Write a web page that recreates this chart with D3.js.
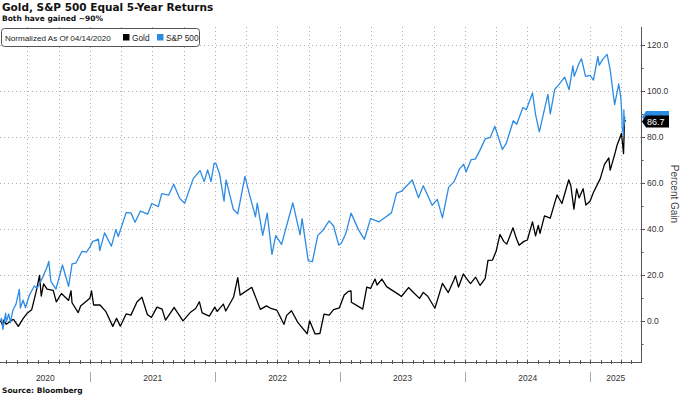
<!DOCTYPE html>
<html>
<head>
<meta charset="utf-8">
<script src="https://cdn.jsdelivr.net/npm/d3@7"></script>
<style>
  body { margin: 0; background: #fff; }
  svg { display: block; font-family: "Liberation Sans", Arial, sans-serif; }
  .grid line { stroke: #b0b0b0; stroke-dasharray: 1, 3; }
</style>
</head>
<body>
<div id="chart"></div>
<script>
// values are % gain, normalized to 04/14/2020
const goldSeries = [
  ["2020-04-14", 0], ["2020-04-21", -2.3], ["2020-04-23", 0.2], ["2020-05-01", -1.6],
  ["2020-05-18", 0.3], ["2020-05-22", 0.5], ["2020-06-05", -2.5], ["2020-06-19", 0.9],
  ["2020-06-30", 3.1], ["2020-07-14", 4.7], ["2020-07-27", 12.5], ["2020-08-06", 19.7],
  ["2020-08-11", 10.7], ["2020-08-18", 16], ["2020-08-28", 13.7], ["2020-09-15", 13.2],
  ["2020-09-24", 8.2], ["2020-10-09", 11.8], ["2020-10-30", 8.8], ["2020-11-06", 13],
  ["2020-11-09", 7.8], ["2020-11-27", 3.5], ["2020-12-04", 6.4], ["2020-12-31", 9.7],
  ["2021-01-05", 12.9], ["2021-01-11", 6.8], ["2021-01-29", 6.9], ["2021-02-16", 3.9],
  ["2021-03-08", -2.5], ["2021-03-19", 1], ["2021-03-30", -2.4], ["2021-04-16", 2.9],
  ["2021-04-30", 2.4], ["2021-05-18", 8.2], ["2021-06-01", 10.2], ["2021-06-17", 2.7],
  ["2021-06-29", 1.4], ["2021-07-15", 5.9], ["2021-07-30", 5], ["2021-08-09", 0.2],
  ["2021-08-31", 5], ["2021-09-03", 5.8], ["2021-09-29", -0.1], ["2021-10-22", 3.8],
  ["2021-11-05", 5.3], ["2021-11-16", 8.2], ["2021-11-24", 3.4], ["2021-12-15", 2],
  ["2021-12-31", 5.9], ["2022-01-07", 4], ["2022-01-25", 7.2], ["2022-02-01", 4.2],
  ["2022-02-24", 10.3], ["2022-03-08", 18.7], ["2022-03-15", 11.1], ["2022-04-18", 14.5],
  ["2022-05-13", 4.9], ["2022-05-31", 6.4], ["2022-06-13", 5.3], ["2022-06-30", 4.6],
  ["2022-07-21", -1.6], ["2022-07-29", 2.3], ["2022-08-12", 4.3], ["2022-08-31", -0.9],
  ["2022-09-15", -3.6], ["2022-09-27", -5.7], ["2022-10-04", -0.1], ["2022-10-20", -5.8],
  ["2022-11-03", -5.6], ["2022-11-15", 2.8], ["2022-11-30", 2.4], ["2022-12-13", 4.8],
  ["2022-12-30", 5.6], ["2023-01-13", 11.2], ["2023-01-25", 12.7], ["2023-02-02", 12.9],
  ["2023-02-03", 8], ["2023-02-28", 5.8], ["2023-03-08", 5], ["2023-03-20", 14.6],
  ["2023-03-31", 14], ["2023-04-13", 18.1], ["2023-04-19", 15.5], ["2023-05-03", 18.1],
  ["2023-05-17", 14.8], ["2023-05-30", 13.5], ["2023-06-23", 11.2], ["2023-06-29", 10.5],
  ["2023-07-20", 14.4], ["2023-08-01", 12.6], ["2023-08-21", 9.7], ["2023-09-01", 12.3],
  ["2023-09-14", 10.6], ["2023-10-05", 5.4], ["2023-10-27", 16.2], ["2023-11-13", 12.2],
  ["2023-11-30", 17.9], ["2023-12-04", 19.5], ["2023-12-13", 14.6], ["2023-12-27", 20.3],
  ["2024-01-05", 18.4], ["2024-01-17", 16.1], ["2024-02-01", 18.9], ["2024-02-14", 15.3],
  ["2024-02-29", 18.4], ["2024-03-08", 26.2], ["2024-03-21", 26.3], ["2024-04-01", 30.3],
  ["2024-04-12", 37.5], ["2024-04-23", 34.5], ["2024-05-02", 33.3], ["2024-05-20", 40.4],
  ["2024-05-30", 35.7], ["2024-06-07", 32.8], ["2024-06-21", 34.5], ["2024-07-01", 35.1],
  ["2024-07-16", 43], ["2024-07-25", 36.9], ["2024-08-02", 41.5], ["2024-08-07", 38],
  ["2024-08-20", 45.6], ["2024-09-06", 44.6], ["2024-09-20", 51.8], ["2024-09-26", 54.7],
  ["2024-10-10", 51], ["2024-10-30", 61.3], ["2024-11-05", 58.7], ["2024-11-14", 48.5],
  ["2024-11-22", 57.3], ["2024-11-29", 53.4], ["2024-12-11", 57.4], ["2024-12-19", 50.3],
  ["2024-12-31", 52], ["2025-01-10", 55.8], ["2025-01-30", 61.8], ["2025-02-11", 67.9],
  ["2025-02-24", 70.8], ["2025-02-28", 65.5], ["2025-03-14", 72.8], ["2025-03-20", 76.3],
  ["2025-03-31", 80.7], ["2025-04-02", 81.5], ["2025-04-08", 72.7], ["2025-04-11", 87.4],
  ["2025-04-14", 86.7]
];

const spxSeries = [
  ["2020-04-14", 0], ["2020-04-17", 1], ["2020-04-21", -3.8], ["2020-04-29", 3.3],
  ["2020-05-01", -0.5], ["2020-05-08", 2.9], ["2020-05-13", -0.9], ["2020-05-20", 4.4],
  ["2020-05-29", 7], ["2020-06-08", 13.6], ["2020-06-11", 5.5], ["2020-06-19", 8.9],
  ["2020-06-26", 5.7], ["2020-07-08", 11.4], ["2020-07-22", 15.1], ["2020-07-30", 14.1],
  ["2020-08-14", 18.5], ["2020-08-28", 23.3], ["2020-09-02", 25.8], ["2020-09-08", 17.1],
  ["2020-09-23", 13.7], ["2020-10-12", 24.2], ["2020-10-30", 14.9], ["2020-11-09", 24.7],
  ["2020-11-20", 25], ["2020-12-08", 30.1], ["2020-12-21", 29.8], ["2020-12-31", 32],
  ["2021-01-08", 34.4], ["2021-01-25", 35.5], ["2021-01-29", 30.5], ["2021-02-12", 38.2],
  ["2021-03-04", 32.4], ["2021-03-17", 39.6], ["2021-03-24", 36.6], ["2021-04-16", 47],
  ["2021-04-30", 46.9], ["2021-05-12", 42.8], ["2021-05-28", 47.7], ["2021-06-18", 46.4],
  ["2021-06-30", 51], ["2021-07-19", 49.6], ["2021-07-29", 55.3], ["2021-08-18", 54.6],
  ["2021-09-02", 59.4], ["2021-09-20", 53.1], ["2021-10-04", 51.1], ["2021-10-29", 61.8],
  ["2021-11-18", 65.3], ["2021-11-30", 60.5], ["2021-12-10", 65.6], ["2021-12-20", 60.5],
  ["2021-12-29", 68.4], ["2022-01-03", 68.5], ["2022-01-14", 63.8], ["2022-01-27", 52],
  ["2022-02-02", 61.3], ["2022-02-23", 48.5], ["2022-03-08", 46.5], ["2022-03-29", 62.8],
  ["2022-04-11", 55.1], ["2022-04-29", 45.2], ["2022-05-04", 51.1], ["2022-05-20", 37.1],
  ["2022-06-02", 46.8], ["2022-06-16", 28.8], ["2022-06-27", 37], ["2022-07-14", 33.2],
  ["2022-08-16", 51.3], ["2022-09-06", 37.3], ["2022-09-12", 44.4], ["2022-09-30", 26],
  ["2022-10-12", 25.7], ["2022-10-28", 37.1], ["2022-11-10", 39], ["2022-11-30", 43.4],
  ["2022-12-13", 41.2], ["2022-12-28", 32.9], ["2023-01-05", 33.8], ["2023-01-18", 38],
  ["2023-02-02", 46.8], ["2023-02-24", 39.5], ["2023-03-13", 35.4], ["2023-03-31", 44.4],
  ["2023-04-25", 43], ["2023-05-12", 44.9], ["2023-05-31", 46.9], ["2023-06-15", 55.5],
  ["2023-06-30", 56.4], ["2023-07-31", 61.2], ["2023-08-18", 53.5], ["2023-09-01", 58.7],
  ["2023-09-27", 50.2], ["2023-10-12", 52.8], ["2023-10-27", 44.7], ["2023-11-14", 58],
  ["2023-11-30", 60.5], ["2023-12-15", 65.8], ["2023-12-28", 68.1], ["2024-01-04", 64.7],
  ["2024-01-19", 70.1], ["2024-01-31", 70.3], ["2024-02-13", 74], ["2024-02-29", 79.1],
  ["2024-03-15", 79.8], ["2024-03-28", 84.6], ["2024-04-19", 74.5], ["2024-04-30", 77],
  ["2024-05-21", 87], ["2024-05-31", 85.5], ["2024-06-18", 92.8], ["2024-06-28", 91.8],
  ["2024-07-16", 99.1], ["2024-07-25", 89.7], ["2024-08-05", 82.2], ["2024-08-30", 98.5],
  ["2024-09-06", 90], ["2024-09-19", 100.7], ["2024-09-30", 102.5], ["2024-10-18", 106],
  ["2024-10-31", 100.5], ["2024-11-11", 110.9], ["2024-11-15", 106.3], ["2024-11-29", 112],
  ["2024-12-06", 114], ["2024-12-18", 106.3], ["2024-12-31", 106.7], ["2025-01-10", 104.7],
  ["2025-01-23", 115], ["2025-01-27", 111.2], ["2025-02-06", 113.7], ["2025-02-19", 115.9],
  ["2025-02-28", 109.2], ["2025-03-10", 97.3], ["2025-03-13", 94], ["2025-03-25", 103],
  ["2025-03-31", 97.2], ["2025-04-03", 89.6], ["2025-04-04", 84], ["2025-04-08", 81],
  ["2025-04-09", 91.7], ["2025-04-10", 85.1], ["2025-04-11", 88.4], ["2025-04-14", 88.6]
];

const yTicks = [0, 20, 40, 60, 80, 100, 120];
const yMinorTicks = [-10, 10, 30, 50, 70, 90, 110];
const dateStart = "2020-04-14";
const dateEnd = "2025-05-29";
const seriesNames = ["Gold", "S&P 500"];
const seriesColors = ["#000000", "#2c8be3"];

const width = 680;
const height = 397;
const plot = { left: 0, right: 641, top: 27, bottom: 362 };

const parse = d3.utcParse("%Y-%m-%d");
const toPoints = (arr) => arr.map(([d, v]) => ({ date: parse(d), value: v }));
const gold = toPoints(goldSeries);
const spx = toPoints(spxSeries);

const x = d3.scaleUtc()
  .domain([parse(dateStart), parse(dateEnd)])
  .range([plot.left + 0.5, plot.right]);
const y = d3.scaleLinear()
  .domain([-18, 127.8])
  .range([plot.bottom, plot.top]);

const svg = d3.select("#chart")
  .append("svg")
  .attr("width", width)
  .attr("height", height);

// grid
const grid = svg.append("g").attr("class", "grid");
grid.selectAll(".hgrid")
  .data(yTicks)
  .join("line")
  .attr("x1", plot.left)
  .attr("x2", plot.right)
  .attr("y1", (d) => Math.round(y(d)) + 0.5)
  .attr("y2", (d) => Math.round(y(d)) + 0.5);
grid.selectAll(".vgrid")
  .data(d3.utcMonth.every(3).range(x.domain()[0], x.domain()[1]))
  .join("line")
  .attr("x1", (d) => Math.round(x(d)) + 0.5)
  .attr("x2", (d) => Math.round(x(d)) + 0.5)
  .attr("y1", plot.top)
  .attr("y2", plot.bottom);

// lines
const line = d3.line()
  .x((d) => x(d.date))
  .y((d) => y(d.value));

svg.append("path")
  .datum(gold)
  .attr("fill", "none")
  .attr("stroke", seriesColors[0])
  .attr("stroke-width", 1.3)
  .attr("stroke-linejoin", "round")
  .attr("d", line);

svg.append("path")
  .datum(spx)
  .attr("fill", "none")
  .attr("stroke", seriesColors[1])
  .attr("stroke-width", 1.3)
  .attr("stroke-linejoin", "round")
  .attr("d", line);

// bottom axis
const axisColor = "#555";
svg.append("line")
  .attr("x1", plot.left).attr("x2", plot.right)
  .attr("y1", plot.bottom + 0.5).attr("y2", plot.bottom + 0.5)
  .attr("stroke", axisColor);
svg.append("g")
  .selectAll("line")
  .data(d3.utcMonth.range(x.domain()[0], x.domain()[1]))
  .join("line")
  .attr("x1", (d) => Math.round(x(d)) + 0.5)
  .attr("x2", (d) => Math.round(x(d)) + 0.5)
  .attr("y1", plot.bottom - 2)
  .attr("y2", plot.bottom + 2)
  .attr("stroke", axisColor);

const years = d3.utcYear.range(d3.utcYear.floor(x.domain()[0]), x.domain()[1]);
svg.append("g")
  .selectAll("line")
  .data(years.filter((d) => d > x.domain()[0]))
  .join("line")
  .attr("x1", (d) => Math.round(x(d)) + 0.5)
  .attr("x2", (d) => Math.round(x(d)) + 0.5)
  .attr("y1", 372)
  .attr("y2", 382)
  .attr("stroke", "#aaa");
svg.append("g")
  .selectAll("text")
  .data(years)
  .join("text")
  .attr("x", (d) => {
    const a = Math.max(x(d), x.range()[0]);
    const b = Math.min(x(d3.utcYear.offset(d, 1)), x.range()[1]);
    return (a + b) / 2;
  })
  .attr("y", 381)
  .attr("text-anchor", "middle")
  .attr("font-size", 8.5)
  .attr("fill", "#333")
  .text((d) => d3.utcFormat("%Y")(d));

// right axis
svg.append("line")
  .attr("x1", plot.right + 0.5).attr("x2", plot.right + 0.5)
  .attr("y1", plot.top).attr("y2", plot.bottom + 1)
  .attr("stroke", axisColor);
svg.append("g")
  .selectAll("line")
  .data(yTicks)
  .join("line")
  .attr("x1", plot.right)
  .attr("x2", plot.right + 4)
  .attr("y1", (d) => Math.round(y(d)) + 0.5)
  .attr("y2", (d) => Math.round(y(d)) + 0.5)
  .attr("stroke", axisColor);
svg.append("g")
  .selectAll("line")
  .data(yMinorTicks)
  .join("line")
  .attr("x1", plot.right)
  .attr("x2", plot.right + 2.5)
  .attr("y1", (d) => Math.round(y(d)) + 0.5)
  .attr("y2", (d) => Math.round(y(d)) + 0.5)
  .attr("stroke", axisColor);
svg.append("g")
  .selectAll("text")
  .data(yTicks)
  .join("text")
  .attr("x", plot.right + 6)
  .attr("y", (d) => y(d))
  .attr("dy", "0.35em")
  .attr("font-size", 8.5)
  .attr("fill", "#333")
  .text(d3.format(".1f"));

svg.append("text")
  .attr("transform", "translate(671,194) rotate(90)")
  .attr("text-anchor", "middle")
  .attr("font-size", 10)
  .attr("fill", "#444")
  .text("Percent Gain");

// last value tags
const tag = (cy) =>
  `M${plot.right + 1},${cy} L${plot.right + 5},${cy - 6} L${plot.right + 28},${cy - 6} ` +
  `L${plot.right + 28},${cy + 6} L${plot.right + 5},${cy + 6} Z`;
const spxLast = spx[spx.length - 1].value;
const goldLast = gold[gold.length - 1].value;
svg.append("path")
  .attr("d", tag(y(spxLast)))
  .attr("fill", seriesColors[1]);
svg.append("path")
  .attr("d", tag(y(goldLast)))
  .attr("fill", seriesColors[0]);
svg.append("text")
  .attr("x", plot.right + 6)
  .attr("y", y(goldLast))
  .attr("dy", "0.35em")
  .attr("font-size", 9)
  .attr("fill", "#fff")
  .text(d3.format(".1f")(goldLast));

// legend
const legend = svg.append("g");
legend.append("rect")
  .attr("x", 1.5).attr("y", 28.5)
  .attr("width", 198).attr("height", 18)
  .attr("rx", 3)
  .attr("fill", "#fff")
  .attr("stroke", "#555");
legend.append("text")
  .attr("x", 5).attr("y", 41)
  .attr("font-size", 8.1)
  .attr("fill", "#222")
  .text("Normalized As Of 04/14/2020");
const legendItems = [
  { name: seriesNames[0], color: seriesColors[0], x: 123 },
  { name: seriesNames[1], color: seriesColors[1], x: 157 },
];
legend.selectAll(".item")
  .data(legendItems)
  .join("g")
  .attr("transform", (d) => `translate(${d.x},0)`)
  .call((g) => g.append("rect")
    .attr("x", 0).attr("y", 34)
    .attr("width", 6.5).attr("height", 6.5)
    .attr("fill", (d) => d.color))
  .call((g) => g.append("text")
    .attr("x", 9).attr("y", 41)
    .attr("font-size", 8.3)
    .attr("fill", "#222")
    .text((d) => d.name));

// titles
svg.append("text")
  .attr("x", 2).attr("y", 11)
  .attr("font-family", "DejaVu Sans")
  .attr("font-weight", "bold")
  .attr("font-size", 10.5)
  .attr("fill", "#111")
  .text("Gold, S&P 500 Equal 5-Year Returns");
svg.append("text")
  .attr("x", 2).attr("y", 21)
  .attr("font-family", "DejaVu Sans")
  .attr("font-weight", "bold")
  .attr("font-size", 7.5)
  .attr("fill", "#111")
  .text("Both have gained ~90%");
svg.append("text")
  .attr("x", 2).attr("y", 393)
  .attr("font-family", "DejaVu Sans")
  .attr("font-weight", "bold")
  .attr("font-size", 7.5)
  .attr("fill", "#111")
  .text("Source:  Bloomberg");
</script>
</body>
</html>
